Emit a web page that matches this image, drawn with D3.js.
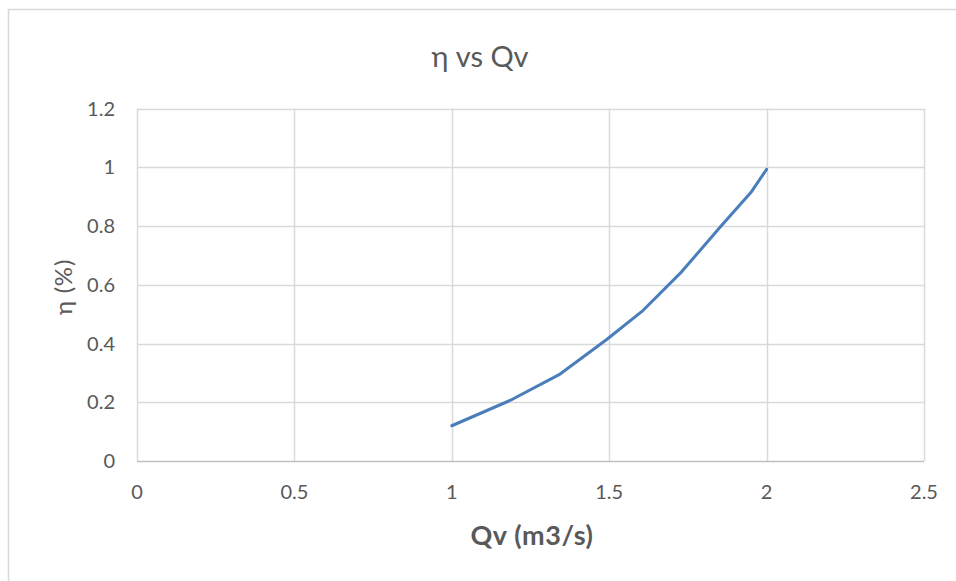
<!DOCTYPE html>
<html><head><meta charset="utf-8">
<script src="https://cdn.jsdelivr.net/npm/d3@7"></script>
<style>body{margin:0;background:#fff;}svg{display:block;}</style>
</head><body>
<script>
const qv = [1.0, 1.185, 1.344, 1.49, 1.608, 1.73, 1.852, 1.952, 2.0];
const eta = [0.12, 0.206, 0.296, 0.412, 0.513, 0.644, 0.796, 0.917, 0.993];
const xTicks = [0, 0.5, 1, 1.5, 2, 2.5];
const yTicks = [0, 0.2, 0.4, 0.6, 0.8, 1, 1.2];
const title = "η vs Qv";
const xTitle = "Qv (m3/s)";
const yTitle = "η (%)";

const W = 956, H = 581;
const svg = d3.select("body").append("svg").attr("width", W).attr("height", H);
const font = "Lato, 'Open Sans', sans-serif";
const txt = "#595959";

// chart area border
svg.append("rect").attr("x", 8.5).attr("y", 9.5).attr("width", W + 10).attr("height", H + 10)
  .attr("fill", "#fff").attr("stroke", "#d9d9d9").attr("stroke-width", 1.5);

const x = d3.scaleLinear().domain([0, 2.5]).range([137, 924]);
const y = d3.scaleLinear().domain([0, 1.2]).range([461, 108.5]);

// gridlines
svg.append("g").selectAll("line").data(yTicks.filter(d => d > 0)).join("line")
  .attr("x1", x(0)).attr("x2", x(2.5)).attr("y1", d => Math.round(y(d)) + 0.5).attr("y2", d => Math.round(y(d)) + 0.5)
  .attr("stroke", "#d9d9d9").attr("stroke-width", 1.5);
svg.append("g").selectAll("line").data(xTicks).join("line")
  .attr("y1", y(0)).attr("y2", y(1.2)).attr("x1", d => Math.round(x(d)) + 0.5).attr("x2", d => Math.round(x(d)) + 0.5)
  .attr("stroke", "#d9d9d9").attr("stroke-width", 1.5);
// x axis line
svg.append("line").attr("x1", x(0)).attr("x2", x(2.5)).attr("y1", Math.round(y(0)) + 0.5).attr("y2", Math.round(y(0)) + 0.5)
  .attr("stroke", "#bfbfbf").attr("stroke-width", 1.5);

// tick labels
svg.append("g").selectAll("text").data(xTicks).join("text")
  .attr("x", d => x(d)).attr("y", 499).attr("text-anchor", "middle")
  .attr("font-family", font).attr("font-size", 20).attr("fill", txt).text(d => d);
svg.append("g").selectAll("text").data(yTicks).join("text")
  .attr("x", 115).attr("y", d => y(d) + 7).attr("text-anchor", "end")
  .attr("font-family", font).attr("font-size", 20).attr("fill", txt).text(d => d);

// line
const data = qv.map((v, i) => [v, eta[i]]);
svg.append("path").datum(data)
  .attr("d", d3.line().x(d => x(d[0])).y(d => y(d[1])))
  .attr("fill", "none").attr("stroke", "#4a7ebb").attr("stroke-width", 3).attr("stroke-linecap", "round").attr("stroke-linejoin", "round");

// titles
svg.append("text").attr("x", 480).attr("y", 67).attr("text-anchor", "middle")
  .attr("font-family", font).attr("font-size", 29).attr("fill", txt).text(title);
svg.append("text").attr("x", 532).attr("y", 545).attr("text-anchor", "middle")
  .attr("font-family", font).attr("font-size", 27).attr("font-weight", "bold").attr("letter-spacing", 0.6).attr("fill", txt).text(xTitle);
svg.append("text").attr("transform", "translate(72,287) rotate(-90)").attr("text-anchor", "middle")
  .attr("font-family", font).attr("font-size", 24).attr("letter-spacing", 0.8).attr("fill", txt).text(yTitle);
</script>
</body></html>
